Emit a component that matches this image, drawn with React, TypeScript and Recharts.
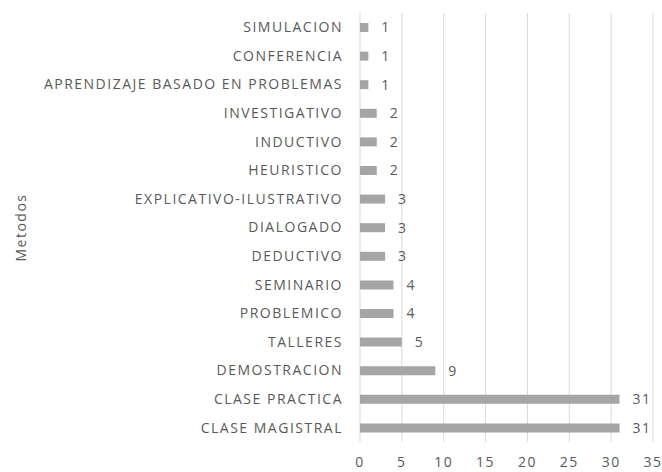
import { BarChart, Bar, XAxis, YAxis, CartesianGrid, LabelList, Label } from "recharts";

const metodos = [
  "SIMULACION",
  "CONFERENCIA",
  "APRENDIZAJE BASADO EN PROBLEMAS",
  "INVESTIGATIVO",
  "INDUCTIVO",
  "HEURISTICO",
  "EXPLICATIVO-ILUSTRATIVO",
  "DIALOGADO",
  "DEDUCTIVO",
  "SEMINARIO",
  "PROBLEMICO",
  "TALLERES",
  "DEMOSTRACION",
  "CLASE PRACTICA",
  "CLASE MAGISTRAL",
];
const frecuencias = [1, 1, 1, 2, 2, 2, 3, 3, 3, 4, 4, 5, 9, 31, 31];
const xTicks = [0, 5, 10, 15, 20, 25, 30, 35];

const data = metodos.map((m, i) => ({ metodo: m, valor: frecuencias[i] }));

const textColor = "#595959";
const font = "'Open Sans', sans-serif";

// axis title, rotated and centred on the plot height
const AxisTitle = (props: any) => {
  const vb = props.viewBox;
  const x = vb.x + 20;
  const y = vb.y + vb.height / 2;
  return (
    <text
      x={x}
      y={y}
      transform={`rotate(-90, ${x}, ${y})`}
      textAnchor="middle"
      dominantBaseline="central"
      fill={textColor}
      fontSize={14}
    >
      Metodos
    </text>
  );
};

export default function App() {
  return (
    <div style={{ position: "absolute", left: 0, top: 0 }}>
      <BarChart
        width={662}
        height={472}
        data={data}
        layout="vertical"
        margin={{ top: 13, right: 9, bottom: 0, left: 0 }}
        style={{ fontFamily: font, letterSpacing: 1.5 }}
      >
        <CartesianGrid horizontal={false} stroke="#d9d9d9" />
        <XAxis
          type="number"
          domain={[0, 35]}
          ticks={xTicks}
          axisLine={false}
          tickLine={false}
          height={30}
          tickMargin={9}
          tick={{ fill: textColor, fontSize: 14 }}
        />
        <YAxis
          type="category"
          dataKey="metodo"
          width={360}
          axisLine={false}
          tickLine={false}
          tickMargin={11}
          interval={0}
          tick={{ fill: textColor, fontSize: 14 }}
        >
          <Label content={AxisTitle} />
        </YAxis>
        <Bar dataKey="valor" fill="#a5a5a5" barSize={9} isAnimationActive={false}>
          <LabelList
            dataKey="valor"
            position="right"
            offset={13}
            fill={textColor}
            fontSize={14}
          />
        </Bar>
      </BarChart>
    </div>
  );
}
